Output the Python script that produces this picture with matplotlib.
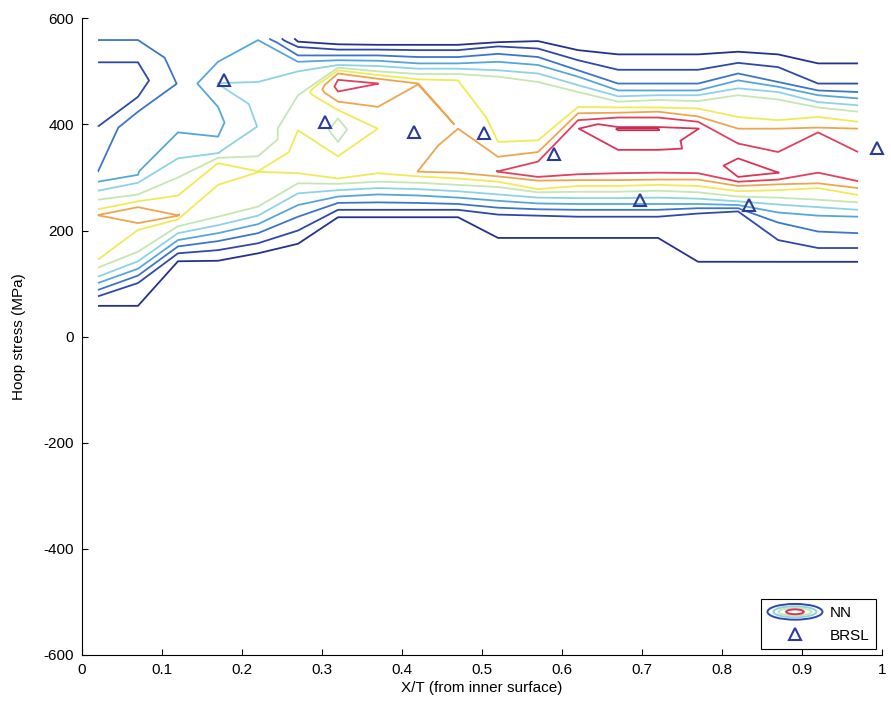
import numpy as np
import matplotlib
matplotlib.use('Agg')
import matplotlib.pyplot as plt
import matplotlib.tri as mtri
from matplotlib.legend_handler import HandlerBase
from matplotlib.patches import Ellipse
from matplotlib.lines import Line2D

plt.rcParams['font.family'] = ['Liberation Sans', 'DejaVu Sans']
plt.rcParams['axes.unicode_minus'] = False

# X/T positions of the NN output columns
x_nodes = [0.02, 0.07, 0.12, 0.17, 0.22, 0.27, 0.32, 0.37, 0.42, 0.47,
           0.52, 0.57, 0.62, 0.67, 0.72, 0.77, 0.82, 0.87, 0.92, 0.97]

# NN density profile per column: (hoop stress MPa, density level)
nn_columns = [
    [(58, 1), (76, 2), (88, 3), (101, 4), (113, 5), (130, 6), (145, 7), (229, 8.02), (240, 7), (258, 6),
     (275, 5), (292, 4), (311, 3), (396, 2), (460, 1.6), (517, 2), (559, 3), (562, 3.3)],
    [(58, 1), (101, 2), (115, 3), (128, 4), (142, 5), (160, 6), (201, 7), (214, 8), (229, 8.5), (244, 8),
     (255, 7), (268, 6), (290, 5), (305, 4), (311, 3.97), (392, 3.97), (424, 3), (452, 2), (485, 1.6),
     (517, 2), (559, 3), (562, 3.3)],
    [(142, 1), (157, 2), (170, 3), (182, 4), (195, 5), (208, 6), (221, 7), (228, 8.02), (266, 7), (300, 6),
     (336, 5), (385, 4), (420, 3.6), (477, 3.05), (530, 3.5), (562, 3.6)],
    [(143, 1), (163, 2), (180, 3), (195, 4), (210, 5), (226, 6), (286, 7), (305, 7.4), (327, 7), (337, 6),
     (346, 5), (377, 4), (405, 3.8), (433, 4), (477, 5.02), (518, 4), (562, 3.6)],
    [(157, 1), (176, 2), (195, 3), (212, 4), (228, 5), (245, 6), (311, 7.02), (340, 6), (355, 5.03),
     (396, 5.03), (440, 5.3), (480, 5), (559, 4), (562, 3.9)],
    [(175, 1), (200, 2), (226, 3), (248, 4), (270, 5), (289, 6), (308, 7), (350, 7.3), (389, 7), (455, 6),
     (500, 5), (518, 4), (530, 3), (546, 2), (556, 1), (562, 0.7)],
    [(225, 1), (239, 2), (252, 3), (264, 4), (276, 5), (288, 6), (298, 7), (320, 7.3), (340, 7), (367, 6),
     (390, 5.7), (411, 6), (427, 7), (443, 8), (462, 9), (473, 9.3), (484, 9), (496, 8), (502, 7), (507, 6),
     (512, 5), (521, 4), (530, 3), (541, 2), (551, 1), (562, 0.5)],
    [(225, 1), (239, 2), (253, 3), (268, 4), (280, 5), (292, 6), (308, 7), (350, 7.3), (392, 7.02), (433, 8),
     (477, 9.01), (486, 8), (493, 7), (500, 6), (510, 5), (520, 4), (530, 3), (541, 2), (550, 1), (562, 0.5)],
    [(225, 1), (239, 2), (252, 3), (266, 4), (278, 5), (290, 6), (302, 7), (311, 8.01), (380, 7.5), (477, 8.01),
     (485, 7), (495, 6), (505, 5), (515, 4), (527, 3), (540, 2), (550, 1), (562, 0.5)],
    [(225, 1), (239, 2), (250, 3), (262, 4), (274, 5), (286, 6), (298, 7), (309, 8), (340, 8.5), (392, 8),
     (483, 7), (495, 6), (505, 5), (515, 4), (527, 3), (540, 2), (550, 1), (562, 0.5)],
    [(186, 1), (230, 2), (243, 3), (256, 4), (268, 5), (282, 6), (292, 7), (302, 8), (311, 9.02), (339, 8),
     (367, 7), (420, 6.6), (477, 6.98), (490, 6), (502, 5), (518, 4), (533, 3), (547, 2), (555, 1), (562, 0.6)],
    [(186, 1), (228, 2), (240, 3), (251, 4), (262, 5), (272, 6), (278, 7), (294, 8), (301, 9), (315, 9.3),
     (330, 9), (348, 8), (370, 7), (480, 6), (496, 5), (512, 4), (527, 3), (543, 2), (557, 1), (562, 0.6)],
    [(186, 1), (226, 2), (239, 3), (250, 4), (261, 5), (273, 6), (284, 7), (295, 8), (306, 9), (392, 9.98),
     (408, 9), (421, 8), (433, 7), (461, 6), (474, 5), (490, 4), (502, 3), (521, 2), (540, 1), (562, 0.3)],
    [(186, 1), (226, 2), (239, 3), (250, 4), (261, 5), (273, 6), (284, 7), (295, 8), (308, 9), (352, 10),
     (389, 11), (391, 11.05), (393, 11), (395, 10), (413, 9), (422, 8), (432, 7), (443, 6), (453, 5),
     (464, 4), (477, 3), (503, 2), (532, 1), (562, 0.3)],
    [(186, 1), (226, 2), (239, 3), (250, 4), (262, 5), (275, 6), (286, 7), (296, 8), (309, 9), (352, 10),
     (389, 11), (391, 11.05), (393, 11), (395, 10), (413, 9), (424, 8), (432, 7), (446, 6), (455, 5),
     (464, 4), (477, 3), (503, 2), (532, 1), (562, 0.3)],
    [(141, 1), (232, 2), (242, 3), (250, 4), (260, 5), (272, 6), (284, 7), (296, 8), (308, 9), (330, 9.3),
     (350, 9.2), (392, 10.02), (405, 9), (415, 8), (430, 7), (444, 6), (455, 5), (464, 4), (477, 3),
     (503, 2), (532, 1), (562, 0.3)],
    [(141, 1), (236, 2), (242, 3), (248, 4), (255, 5), (264, 6), (274, 7), (284, 8), (292, 9), (301, 10),
     (318, 10.4), (336, 10), (364, 9), (392, 8), (414, 7), (455, 6), (468, 5), (483, 4), (496, 3), (516, 2),
     (537, 1), (562, 0.3)],
    [(141, 1), (182, 2), (215, 3), (234, 4), (249, 5), (262, 6), (276, 7), (287, 8), (296, 9), (309, 10.01),
     (348, 9), (392, 8), (408, 7), (447, 6), (461, 5), (471, 4), (480, 3), (508, 2), (532, 1), (562, 0.3)],
    [(141, 1), (167, 2), (198, 3), (228, 4), (244, 5), (258, 6), (280, 7), (289, 8), (309, 9), (350, 9.5),
     (385, 9), (394, 8), (414, 7), (432, 6), (442, 5), (455, 4), (464, 3), (477, 2), (515, 1), (562, 0.3)],
    [(141, 1), (167, 2), (195, 3), (226, 4), (239, 5), (253, 6), (267, 7), (280, 8), (293, 9), (320, 9.5),
     (348, 9), (392, 8), (405, 7), (424, 6), (436, 5), (449, 4), (461, 3), (477, 2), (515, 1), (562, 0.3)],
]

nn_levels = [1, 2, 3, 4, 5, 6, 7, 8, 9, 10, 11]
nn_colors = ['#26318f', '#2f48ac', '#3d76c8', '#56a6dc', '#8ed2e6', '#c6e6b2',
             '#f1ea55', '#eda650', '#e2405c', '#dc3358', '#c92a4e']

# BRSL measurements
brsl_x = [0.178, 0.304, 0.415, 0.503, 0.590, 0.698, 0.834, 0.994]
brsl_y = [483, 405, 385, 383, 344, 258, 248, 356]

x_ticks = [0, 0.1, 0.2, 0.3, 0.4, 0.5, 0.6, 0.7, 0.8, 0.9, 1]
x_tick_labels = ['0', '0.1', '0.2', '0.3', '0.4', '0.5', '0.6', '0.7', '0.8', '0.9', '1']
y_ticks = [-600, -400, -200, 0, 200, 400, 600]

# points of the NN field: every knot of every column, plus a zero at the bottom
px, py, pz, cols = [], [], [], []
for j, knots in enumerate(nn_columns):
    ys = np.array([-600.0] + [float(k[0]) for k in knots])
    zs = np.array([0.0] + [float(k[1]) for k in knots])
    # knots after the first summit lie on the upper flank of the band
    first_drop = int(np.argmax(np.diff(zs) < 0))
    side = (np.arange(len(zs)) > first_drop).astype(float)
    cols.append((list(range(len(px), len(px) + len(ys))), ys, zs, side))
    px += [x_nodes[j]] * len(ys)
    py += list(ys)
    pz += list(zs)


def strip(a, ay, az, aside, b, by, bz, bside):
    # triangles between two neighbouring columns: knots of like level and flank are joined
    # (dynamic-programming match on level, flank, then stress)
    cost = (np.abs(az[:, None] - bz[None, :]) + np.abs(ay[:, None] - by[None, :]) / 40
            + 4 * np.abs(aside[:, None] - bside[None, :]))
    n, m = cost.shape
    acc = np.full((n, m), np.inf)
    acc[0, 0] = cost[0, 0]
    for i in range(n):
        for k in range(m):
            if i == 0 and k == 0:
                continue
            best = min(acc[i - 1, k] if i else np.inf, acc[i, k - 1] if k else np.inf)
            acc[i, k] = cost[i, k] + best
    path = [(n - 1, m - 1)]
    i, k = n - 1, m - 1
    while (i, k) != (0, 0):
        if i and (not k or acc[i - 1, k] <= acc[i, k - 1]):
            i -= 1
        else:
            k -= 1
        path.append((i, k))
    path = path[::-1]
    tris = []
    for (i0, k0), (i1, k1) in zip(path[:-1], path[1:]):
        if i1 > i0:
            tris.append([a[i0], b[k0], a[i1]])
        else:
            tris.append([a[i0], b[k0], b[k1]])
    return tris


triangles = []
for ca, cb in zip(cols[:-1], cols[1:]):
    triangles += strip(*ca, *cb)

tri = mtri.Triangulation(px, py, triangles)
pz = np.array(pz)


class ContourIcon(HandlerBase):
    def create_artists(self, legend, orig_handle, xdescent, ydescent,
                       width, height, fontsize, trans):
        cx = -xdescent + width / 2
        cy = -ydescent + height / 2
        rings = [(1.0, 1.15, nn_colors[1]), (0.78, 0.8, nn_colors[4]),
                 (0.6, 0.55, nn_colors[5]), (0.32, 0.35, nn_colors[9])]
        arts = []
        for fw, fh, c in rings:
            arts.append(Ellipse((cx, cy), width * fw, height * fh, fill=False,
                                edgecolor=c, lw=1.4, transform=trans))
        return arts


fig = plt.figure(figsize=(8.91, 7.09), dpi=100)
ax = fig.add_axes([0.092, 0.0762, 0.898, 0.898])

ax.tricontour(tri, pz, levels=[v + 0.001 for v in nn_levels], colors=nn_colors, linewidths=1.3)
ax.plot(brsl_x, brsl_y, '^', mfc='none', mec='#2b3a9c', ms=8, mew=1.5, ls='none',
        clip_on=False)

ax.set_xlim(0, 1)
ax.set_ylim(-600, 600)
ax.set_xticks(x_ticks)
ax.set_xticklabels(x_tick_labels)
ax.set_yticks(y_ticks)
ax.tick_params(direction='in', length=4, labelsize=11, pad=6)
ax.spines['top'].set_visible(False)
ax.spines['right'].set_visible(False)
ax.set_xlabel('X/T (from inner surface)', fontsize=11, labelpad=3)
ax.set_ylabel('Hoop stress (MPa)', fontsize=11, labelpad=12)

nn_proxy = Line2D([], [], color=nn_colors[1])
brsl_proxy = Line2D([], [], marker='^', mfc='none', mec='#2b3a9c', ms=8, mew=1.5, ls='none')
leg = ax.legend([nn_proxy, brsl_proxy], ['NN', 'BRSL'], loc='lower right',
                handler_map={nn_proxy: ContourIcon()}, fontsize=11,
                handlelength=3.6, handleheight=1.0, handletextpad=0.5,
                borderaxespad=0.4, fancybox=False, framealpha=1, labelspacing=0.5)
leg.get_frame().set_edgecolor('black')
leg.get_frame().set_linewidth(0.8)

fig.savefig('out.png', dpi=100)
